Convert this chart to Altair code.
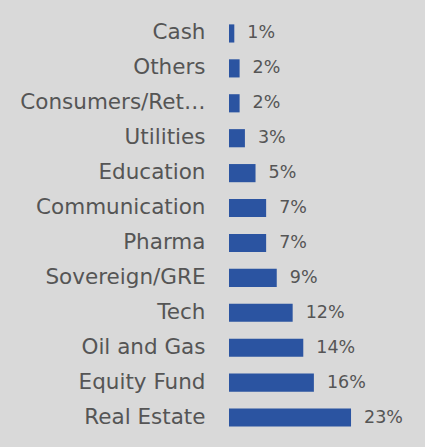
import altair as alt
import pandas as pd

# Portfolio allocation by sector (percent of total)
sectors = [
    "Cash", "Others", "Consumers/Retail", "Utilities", "Education",
    "Communication", "Pharma", "Sovereign/GRE", "Tech", "Oil and Gas",
    "Equity Fund", "Real Estate",
]
shares = [1, 2, 2, 3, 5, 7, 7, 9, 12, 14, 16, 23]

df = pd.DataFrame({"sector": sectors, "share": shares})

BAR_COLOR = "#2b54a1"
TEXT_COLOR = "#555555"
FONT = "DejaVu Sans"

y_enc = alt.Y(
    "sector:N",
    sort=sectors,
    scale=alt.Scale(paddingInner=0.48, paddingOuter=0.24),
    axis=alt.Axis(
        title=None, ticks=False, domain=False, labelPadding=24,
        labelFontSize=21.5, labelColor=TEXT_COLOR, labelFont=FONT,
        labelLimit=188,
    ),
)
x_enc = alt.X(
    "share:Q",
    scale=alt.Scale(domain=[0, 36], nice=False),
    axis=None,
)

bars = alt.Chart(df).mark_bar(color=BAR_COLOR).encode(x=x_enc, y=y_enc)

labels = (
    alt.Chart(df)
    .transform_calculate(label="datum.share + '%'")
    .mark_text(align="left", baseline="middle", dx=13, fontSize=17.5,
               font=FONT, color=TEXT_COLOR)
    .encode(x=x_enc, y=y_enc, text="label:N")
)

chart = (
    alt.layer(bars, labels)
    .properties(
        width=191,
        height=419,
        background="#d9d9d9",
        padding={"left": 229, "top": 16, "right": 5, "bottom": 12},
        autosize=alt.AutoSizeParams(type="none"),
    )
    .configure_view(stroke=None)
)

chart.save("out.html", embed_options={"renderer": "svg", "actions": False})
